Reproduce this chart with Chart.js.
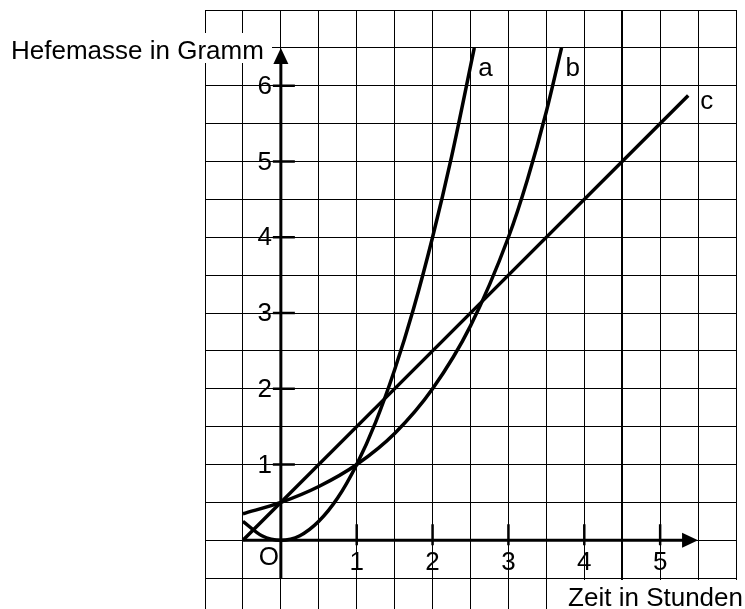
<!DOCTYPE html>
<html>
<head>
<meta charset="utf-8">
<script src="https://cdn.jsdelivr.net/npm/chart.js@4/dist/chart.umd.min.js"></script>
<style>
  html, body { margin: 0; padding: 0; background: #fff; overflow: hidden; }
  canvas { display: block; }
</style>
</head>
<body>
<canvas id="hefe" width="745" height="625"></canvas>
<script>
// Curve a: mass in grams over time in hours
const hoursA = [-0.5, -0.25, 0, 0.25, 0.5, 0.75, 1, 1.25, 1.5, 1.75, 2, 2.25, 2.55];
const massA  = [0.25, 0.06, 0, 0.06, 0.25, 0.56, 1, 1.56, 2.25, 3.06, 4, 5.06, 6.5];
// Curve b
const hoursB = [-0.5, 0, 0.5, 1, 1.5, 2, 2.5, 3, 3.25, 3.5, 3.7];
const massB  = [0.35, 0.5, 0.71, 1, 1.41, 2, 2.83, 4, 4.76, 5.66, 6.5];
// Line c
const hoursC = [-0.5, 1, 3, 5.37];
const massC  = [0, 1.5, 3.5, 5.87];

const curveNames = ['a', 'b', 'c'];
const xTickValues = [1, 2, 3, 4, 5];
const xTickLabels = ['1', '2', '3', '4', '5'];
const yTickValues = [1, 2, 3, 4, 5, 6];
const yTickLabels = ['1', '2', '3', '4', '5', '6'];
const originLabel = 'O';
const xTitle = 'Zeit in Stunden';
const yTitle = 'Hefemasse in Gramm';

const FONT = '26px "Liberation Sans", Arial, sans-serif';

function toPoints(xs, ys) {
  return xs.map((v, i) => ({ x: v, y: ys[i] }));
}

const curveStyle = {
  showLine: true,
  borderColor: '#000',
  borderWidth: 3.5,
  pointRadius: 0,
  pointHoverRadius: 0,
  fill: false,
  cubicInterpolationMode: 'monotone'
};

const axesPlugin = {
  id: 'axesAndLabels',
  beforeDatasetsDraw(chart) {
    const { ctx } = chart;
    const xs = chart.scales.x, ys = chart.scales.y;
    const X = v => xs.getPixelForValue(v);
    const Y = v => ys.getPixelForValue(v);
    ctx.save();
    // white plates behind the axis titles
    ctx.fillStyle = '#fff';
    ctx.fillRect(0, 33, 272, 30);
    ctx.fillRect(563, 580, 182, 45);

    ctx.strokeStyle = '#000';
    ctx.fillStyle = '#000';
    ctx.lineWidth = 3;
    // time axis
    const x0 = X(-0.5), x1 = X(5.5), yA = Y(0);
    ctx.beginPath();
    ctx.moveTo(x0, yA);
    ctx.lineTo(x1 - 14, yA);
    ctx.stroke();
    ctx.beginPath();
    ctx.moveTo(x1, yA);
    ctx.lineTo(x1 - 16, yA - 7.5);
    ctx.lineTo(x1 - 16, yA + 7.5);
    ctx.closePath();
    ctx.fill();
    // mass axis
    const xA = X(0), yBot = Y(-0.5), yTop = Y(6.5);
    ctx.beginPath();
    ctx.moveTo(xA, yBot);
    ctx.lineTo(xA, yTop + 14);
    ctx.stroke();
    ctx.beginPath();
    ctx.moveTo(xA, yTop);
    ctx.lineTo(xA - 7.5, yTop + 16);
    ctx.lineTo(xA + 7.5, yTop + 16);
    ctx.closePath();
    ctx.fill();

    // tick marks
    ctx.lineWidth = 2.5;
    xTickValues.forEach(v => {
      ctx.beginPath();
      ctx.moveTo(X(v), yA - 16);
      ctx.lineTo(X(v), yA + 5);
      ctx.stroke();
    });
    yTickValues.forEach(v => {
      ctx.beginPath();
      ctx.moveTo(xA - 8, Y(v));
      ctx.lineTo(xA + 14, Y(v));
      ctx.stroke();
    });
    ctx.restore();
  },
  afterDatasetsDraw(chart) {
    const { ctx } = chart;
    const xs = chart.scales.x, ys = chart.scales.y;
    const X = v => xs.getPixelForValue(v);
    const Y = v => ys.getPixelForValue(v);
    ctx.save();
    ctx.fillStyle = '#000';
    ctx.font = FONT;

    // tick labels
    ctx.textAlign = 'center';
    ctx.textBaseline = 'middle';
    xTickValues.forEach((v, i) => ctx.fillText(xTickLabels[i], X(v), Y(0) + 23));
    ctx.textAlign = 'right';
    yTickValues.forEach((v, i) => ctx.fillText(yTickLabels[i], X(0) - 9, Y(v) + 1));
    ctx.textAlign = 'center';
    ctx.fillText(originLabel, X(0) - 12, Y(0) + 18);

    // axis titles
    ctx.textBaseline = 'alphabetic';
    ctx.textAlign = 'left';
    ctx.fillText(yTitle, 11, 59);
    ctx.textAlign = 'right';
    ctx.fillText(xTitle, 743, 606);

    // curve names at the upper ends
    ctx.textAlign = 'left';
    const ends = [
      [hoursA[hoursA.length - 1], massA[massA.length - 1], 4, 28],
      [hoursB[hoursB.length - 1], massB[massB.length - 1], 4, 28],
      [hoursC[hoursC.length - 1], massC[massC.length - 1], 12, 13]
    ];
    ends.forEach((e, i) => ctx.fillText(curveNames[i], X(e[0]) + e[2], Y(e[1]) + e[3]));
    ctx.restore();
  }
};

const gridLineWidth = c => (c.tick && c.tick.value === 4.5 ? 2 : 1);

new Chart(document.getElementById('hefe'), {
  type: 'scatter',
  data: {
    datasets: [
      Object.assign({ label: 'a', data: toPoints(hoursA, massA) }, curveStyle),
      Object.assign({ label: 'b', data: toPoints(hoursB, massB) }, curveStyle),
      Object.assign({ label: 'c', data: toPoints(hoursC, massC) }, curveStyle, { cubicInterpolationMode: 'default', tension: 0 })
    ]
  },
  options: {
    responsive: false,
    animation: false,
    events: [],
    layout: { padding: { left: 205, right: 9, top: 10, bottom: 9 } },
    plugins: { legend: { display: false }, tooltip: { enabled: false } },
    scales: {
      x: {
        type: 'linear', min: -1, max: 6,
        ticks: { display: false, stepSize: 0.5 },
        grid: { color: '#000', lineWidth: gridLineWidth, drawTicks: false },
        border: { display: true, color: '#000', width: 1 }
      },
      y: {
        type: 'linear', min: -1, max: 7,
        ticks: { display: false, stepSize: 0.5 },
        grid: { color: '#000', lineWidth: 1, drawTicks: false },
        border: { display: true, color: '#000', width: 1 }
      }
    }
  },
  plugins: [axesPlugin]
});
</script>
</body>
</html>
